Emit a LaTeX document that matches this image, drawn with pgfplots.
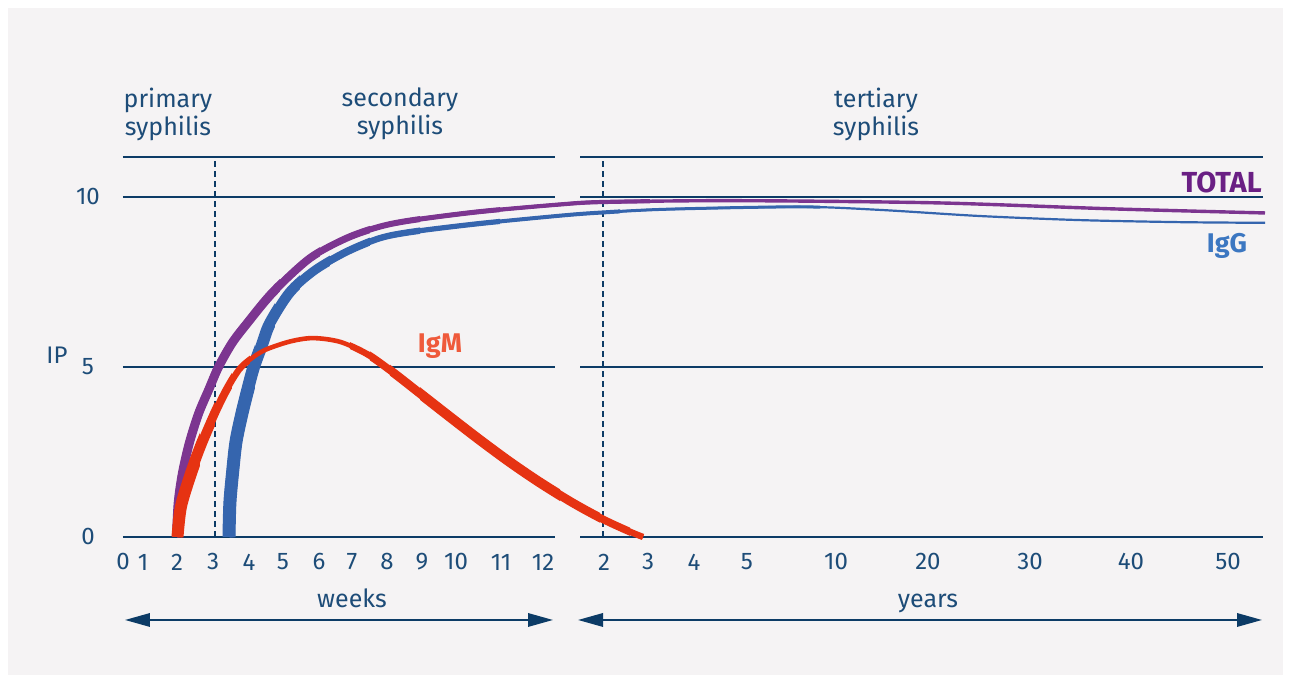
\documentclass[border=0pt]{standalone}
\usepackage{pgfplots}
\pgfplotsset{compat=1.18}
\usepackage{pgfplotstable}
\usepackage{fontspec}
\setmainfont{Fira Sans}
\usetikzlibrary{arrows.meta}

\definecolor{bg}{HTML}{F5F3F4}
\definecolor{navy}{HTML}{0C3B66}
\definecolor{navytxt}{HTML}{1D4C78}
\definecolor{purp}{HTML}{7C3590}
\definecolor{purptxt}{HTML}{6A1F84}
\definecolor{iggc}{HTML}{3565AE}
\definecolor{iggtxt}{HTML}{3C77C1}
\definecolor{igmc}{HTML}{E63312}
\definecolor{igmtxt}{HTML}{EF5A3B}

% x = position along the time axis (weeks left of the gap, years right of it)
\pgfplotstableread{
x y
176.5 0
178.2 1.0
182.4 1.87
189.3 2.76
198.6 3.63
209 4.35
218.5 5.0
232 5.7
247 6.28
273 7.2
310 8.2
346.7 8.79
380 9.13
413 9.32
480 9.57
560 9.78
600 9.85
700 9.89
800 9.88
947 9.82
1113 9.65
1265 9.53
}\total

\pgfplotstableread{
x y
229 0
229.9 1.0
232.5 1.87
236 2.8
242 3.64
248 4.35
254 5.0
262 5.65
270 6.28
290 7.2
315 7.85
346.7 8.39
380 8.79
413 8.98
480 9.22
560 9.45
600 9.54
667 9.64
800 9.71
880 9.62
980 9.44
1080 9.32
1180 9.26
1265 9.24
}\igg

\pgfplotstableread{
x y
177.5 0
181 0.9
191 1.87
202 2.75
216 3.7
227 4.35
239 4.92
250 5.22
265 5.5
290 5.75
313 5.85
340 5.74
367 5.38
393 4.84
420 4.22
450 3.53
480 2.85
510 2.2
540 1.6
573 1.0
603 0.52
628 0.18
643 0
}\igm

% draw a series clipped to the x-range [#4,#5] with colour #2 and width #3
\newcommand{\taper}[5]{%
  \begin{scope}
    \clip (axis cs:#4,-1) rectangle (axis cs:#5,13);
    \addplot[#2, line width=#3, smooth] table {#1};
  \end{scope}}

\begin{document}
\begin{tikzpicture}
\begin{axis}[
  x=0.5pt, y=17pt,
  xmin=123, xmax=1263, ymin=0, ymax=11.176,
  clip=false,
  axis on top,
  axis line style={draw=none},
  major tick length=0pt,
  tick style={draw=none},
  xtick={123,143,177,213,249,283,319,352,387,422,456,501,543,604,648,694,747,836,928,1030,1131,1228},
  xticklabels={0,1,2,3,4,5,6,7,8,9,10,11,12,2,3,4,5,10,20,30,40,50},
  ytick={0,5,10},
  yticklabels={0,5,10},
  xticklabel style={anchor=center, yshift=-12.5pt, text=navytxt, font=\fontsize{12}{14}\selectfont},
  yticklabel style={anchor=center, xshift=-17.5pt, text=navytxt, font=\fontsize{12}{14}\selectfont},
]
% background
\fill[white] (axis cs:0,-4.2647) rectangle (axis cs:1291,15.794);
\fill[bg] (axis cs:8,-4.059) rectangle (axis cs:1283,15.56);

% horizontal rules
\addplot[navy, line width=1.25pt] coordinates {(123,0) (555,0)};
\addplot[navy, line width=1.25pt] coordinates {(580,0) (1263,0)};
\addplot[navy, line width=1.25pt] coordinates {(123,5) (555,5)};
\addplot[navy, line width=1.25pt] coordinates {(580,5) (1263,5)};
\addplot[navy, line width=1.25pt] coordinates {(123,10) (555,10)};
\addplot[navy, line width=1.25pt] coordinates {(580,10) (1263,10)};
\addplot[navy, line width=1.25pt] coordinates {(123,11.176) (555,11.176)};
\addplot[navy, line width=1.25pt] coordinates {(580,11.176) (1263,11.176)};
% dashed phase separators
\addplot[navy, line width=1pt, dash pattern=on 3pt off 2pt] coordinates {(215,0) (215,11.176)};
\addplot[navy, line width=1pt, dash pattern=on 3pt off 2pt] coordinates {(603,0) (603,11.176)};

% IgG (tapering stroke)
\addplot[iggc, line width=1.1pt, smooth] table {\igg};
\taper{\igg}{iggc}{1.5pt}{220}{820}
\taper{\igg}{iggc}{2pt}{220}{620}
\taper{\igg}{iggc}{2.6pt}{220}{500}
\taper{\igg}{iggc}{3.2pt}{220}{420}
\taper{\igg}{iggc}{3.8pt}{220}{370}
\taper{\igg}{iggc}{4.5pt}{220}{330}
\taper{\igg}{iggc}{5.2pt}{220}{300}
\taper{\igg}{iggc}{6pt}{220}{275}
\taper{\igg}{iggc}{6.5pt}{220}{255}

% TOTAL (tapering stroke)
\addplot[purp, line width=1.7pt, smooth] table {\total};
\taper{\total}{purp}{2.1pt}{170}{650}
\taper{\total}{purp}{2.5pt}{170}{500}
\taper{\total}{purp}{3pt}{170}{420}
\taper{\total}{purp}{3.5pt}{170}{370}
\taper{\total}{purp}{4pt}{170}{320}
\taper{\total}{purp}{4.5pt}{170}{280}

% IgM (stroke thick at onset, thin at peak, thick on the decline)
\addplot[igmc, line width=2.3pt, smooth] table {\igm};
\taper{\igm}{igmc}{3.2pt}{170}{250}
\taper{\igm}{igmc}{4pt}{170}{232}
\taper{\igm}{igmc}{5pt}{170}{215}
\taper{\igm}{igmc}{6pt}{170}{200}
\taper{\igm}{igmc}{3.2pt}{350}{660}
\taper{\igm}{igmc}{3.8pt}{370}{630}
\taper{\igm}{igmc}{4.4pt}{390}{600}
\taper{\igm}{igmc}{5pt}{420}{560}

% time arrows
\addplot[navy, line width=1pt, {Triangle[length=12.5pt,width=6.7pt]}-{Triangle[length=12.5pt,width=6.7pt]}] coordinates {(125,-2.441) (553,-2.441)};
\addplot[navy, line width=1pt, {Triangle[length=12.5pt,width=6.7pt]}-{Triangle[length=12.5pt,width=6.7pt]}] coordinates {(578,-2.441) (1262,-2.441)};

% texts
\node[text=navytxt, font=\fontsize{12.5}{14}\selectfont, align=center] at (axis cs:168,12.44) {primary\\syphilis};
\node[text=navytxt, font=\fontsize{12.5}{14}\selectfont, align=center] at (axis cs:400,12.44) {secondary\\syphilis};
\node[text=navytxt, font=\fontsize{12.5}{14}\selectfont, align=center] at (axis cs:876,12.44) {tertiary\\syphilis};
\node[text=navytxt, font=\fontsize{12}{14}\selectfont] at (axis cs:57,5.35) {IP};
\node[text=navytxt, font=\fontsize{12.5}{14}\selectfont, anchor=base] at (axis cs:352,-2.088) {weeks};
\node[text=navytxt, font=\fontsize{12.5}{14}\selectfont, anchor=base] at (axis cs:928,-2.088) {years};
\node[text=purptxt, font=\fontsize{14.5}{16}\selectfont\bfseries, anchor=east, inner sep=0pt] at (axis cs:1262,10.44) {TOTAL};
\node[text=iggtxt, font=\fontsize{13.5}{16}\selectfont\bfseries] at (axis cs:1227,8.56) {IgG};
\node[text=igmtxt, font=\fontsize{13.5}{16}\selectfont\bfseries] at (axis cs:440,5.62) {IgM};
\end{axis}
\end{tikzpicture}
\end{document}
